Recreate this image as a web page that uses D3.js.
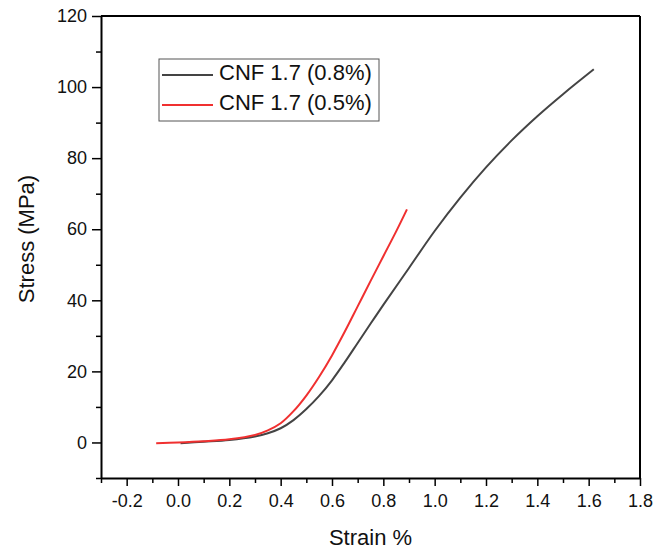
<!DOCTYPE html>
<html>
<head>
<meta charset="utf-8">
<script src="https://cdn.jsdelivr.net/npm/d3@7"></script>
<style>
  body { margin: 0; background: #fff; }
  text { font-family: "Liberation Sans", Arial, sans-serif; }
</style>
</head>
<body>
<div id="chart"></div>
<script>
// ---- data ----
var strain08 = [0.01, 0.1, 0.2, 0.3, 0.35, 0.4, 0.45, 0.5, 0.55, 0.6, 0.65, 0.7, 0.75, 0.8, 0.9, 1.0, 1.1, 1.2, 1.3, 1.4, 1.5, 1.62];
var stress08 = [-0.2, 0.2, 0.7, 1.7, 2.6, 4.0, 6.3, 9.4, 13.1, 17.5, 22.6, 28.0, 33.4, 38.7, 49.1, 59.5, 68.9, 77.4, 85.0, 91.8, 98.0, 105.0];

var strain05 = [-0.085, 0.0, 0.1, 0.2, 0.3, 0.35, 0.4, 0.45, 0.5, 0.55, 0.6, 0.65, 0.7, 0.75, 0.8, 0.85, 0.892];
var stress05 = [-0.2, 0.0, 0.35, 0.9, 2.1, 3.4, 5.4, 8.8, 13.2, 18.5, 24.5, 31.2, 38.3, 45.4, 52.4, 59.4, 65.6];

var seriesNames = ["CNF 1.7 (0.8%)", "CNF 1.7 (0.5%)"];
var seriesColors = ["#444444", "#f03030"];

var xTicks = [-0.2, 0.0, 0.2, 0.4, 0.6, 0.8, 1.0, 1.2, 1.4, 1.6, 1.8];
var yTicks = [0, 20, 40, 60, 80, 100, 120];

var margin = {top: 16, right: 16, bottom: 71, left: 101},
  width = 656 - margin.left - margin.right,
  height = 549 - margin.top - margin.bottom;

var svg = d3.select("#chart")
  .append("svg")
  .attr("width", 656)
  .attr("height", 549);

var g = svg.append("g")
  .attr("transform", "translate(" + margin.left + "," + margin.top + ")");

var x = d3.scaleLinear().domain([-0.3, 1.8]).range([0, width]);
var y = d3.scaleLinear().domain([-10, 120]).range([height, 0]);

// minor ticks
var xMinor = d3.range(-0.3, 1.81, 0.1).map(function(d) { return +d.toFixed(2); })
  .filter(function(d) { return xTicks.indexOf(d) < 0; });
var yMinor = d3.range(-10, 121, 10).filter(function(d) { return yTicks.indexOf(d) < 0; });

g.append("g")
  .attr("transform", "translate(0," + height + ")")
  .call(d3.axisBottom(x).tickValues(xMinor).tickSize(5).tickFormat(""))
  .call(function(s) { s.select(".domain").remove(); s.selectAll("line").attr("stroke-width", 1.5); });

g.append("g")
  .call(d3.axisLeft(y).tickValues(yMinor).tickSize(5).tickFormat(""))
  .call(function(s) { s.select(".domain").remove(); s.selectAll("line").attr("stroke-width", 1.5); });

// main axes
var fmt = function(d) { return d3.format(".1f")(d).replace("\u2212", "-"); };

var xAxis = g.append("g")
  .attr("transform", "translate(0," + height + ")")
  .call(d3.axisBottom(x).tickValues(xTicks).tickSize(8).tickSizeOuter(0).tickPadding(8).tickFormat(fmt));

var yAxis = g.append("g")
  .call(d3.axisLeft(y).tickValues(yTicks).tickSize(9).tickSizeOuter(0).tickPadding(5));

[xAxis, yAxis].forEach(function(a) {
  a.select(".domain").attr("stroke-width", 2);
  a.selectAll(".tick line").attr("stroke-width", 1.5);
  a.selectAll(".tick text")
    .style("font-size", "18px")
    .style("font-family", "'Liberation Sans', Arial, sans-serif")
    .attr("fill", "#111");
});

// top and right frame
g.append("line").attr("x1", 0).attr("x2", width).attr("y1", 0).attr("y2", 0)
  .attr("stroke", "#000").attr("stroke-width", 2);
g.append("line").attr("x1", width).attr("x2", width).attr("y1", 0).attr("y2", height)
  .attr("stroke", "#000").attr("stroke-width", 2);

// curves
var line = d3.line()
  .x(function(d) { return x(d[0]); })
  .y(function(d) { return y(d[1]); })
  .curve(d3.curveCatmullRom.alpha(0.5));

var series = [
  d3.zip(strain08, stress08),
  d3.zip(strain05, stress05)
];

series.forEach(function(s, i) {
  g.append("path")
    .datum(s)
    .attr("fill", "none")
    .attr("stroke", seriesColors[i])
    .attr("stroke-width", 2)
    .attr("d", line);
});

// legend
var legend = svg.append("g").attr("transform", "translate(159,59)");
legend.append("rect")
  .attr("width", 220).attr("height", 62)
  .attr("fill", "#fff").attr("stroke", "#555").attr("stroke-width", 1);

seriesNames.forEach(function(name, i) {
  var ly = 16 + i * 30;
  legend.append("line")
    .attr("x1", 3).attr("x2", 54).attr("y1", ly).attr("y2", ly)
    .attr("stroke", seriesColors[i]).attr("stroke-width", 2);
  legend.append("text")
    .attr("x", 60).attr("y", ly + 5)
    .style("font-size", "22px")
    .attr("fill", "#111")
    .text(name);
});

// axis titles
svg.append("text")
  .attr("x", margin.left + width / 2)
  .attr("y", 545)
  .attr("text-anchor", "middle")
  .style("font-size", "22px")
  .attr("fill", "#111")
  .text("Strain %");

svg.append("text")
  .attr("transform", "translate(34," + 239 + ") rotate(-90)")
  .attr("text-anchor", "middle")
  .style("font-size", "22px")
  .attr("fill", "#111")
  .text("Stress (MPa)");
</script>
</body>
</html>
